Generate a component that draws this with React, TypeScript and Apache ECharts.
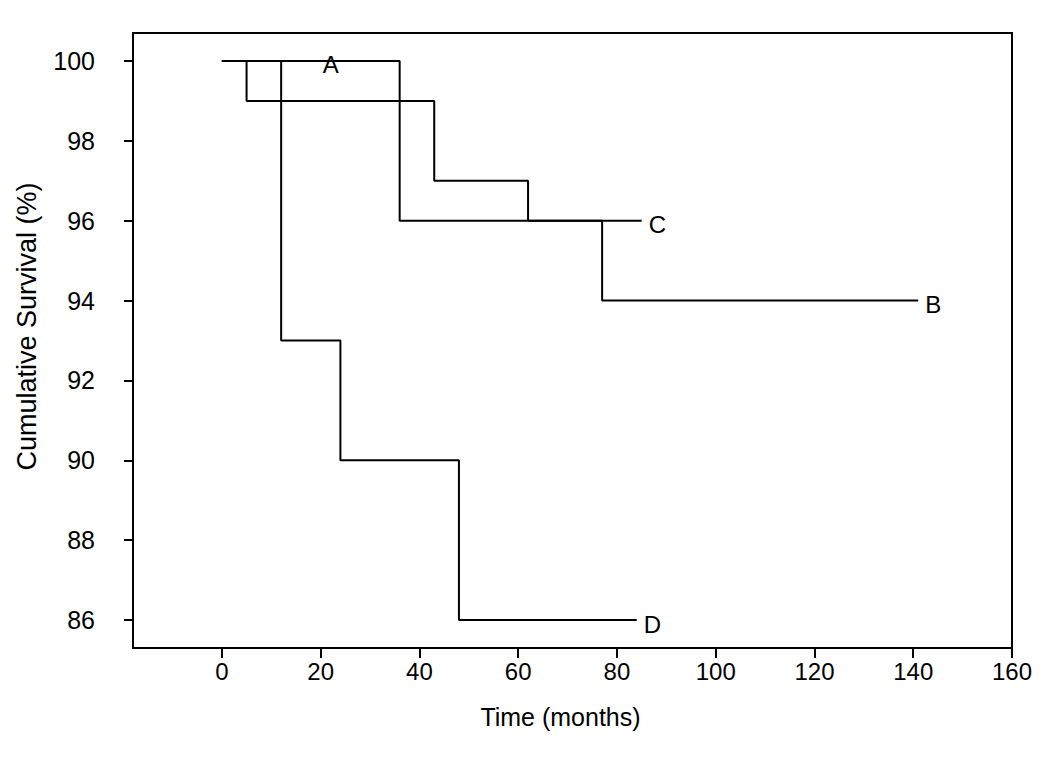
import React, { useEffect, useRef } from "react";
import * as echarts from "echarts";

const xTicks = [0, 20, 40, 60, 80, 100, 120, 140, 160];
const yTicks = [86, 88, 90, 92, 94, 96, 98, 100];

const seriesA: [number, number][] = [[0, 100], [19, 100]];
const seriesB: [number, number][] = [[0, 100], [5, 99], [43, 97], [62, 96], [77, 94], [141, 94]];
const seriesC: [number, number][] = [[0, 100], [36, 96], [85, 96]];
const seriesD: [number, number][] = [[0, 100], [12, 93], [24, 90], [48, 86], [84, 86]];

const curves = [
  { name: "A", data: seriesA },
  { name: "B", data: seriesB },
  { name: "C", data: seriesC },
  { name: "D", data: seriesD },
];

const FONT = "'Liberation Sans', Arial, sans-serif";

export default function App() {
  const ref = useRef<HTMLDivElement>(null);
  useEffect(() => {
    if (!ref.current) return;
    const chart = echarts.init(ref.current, null, { renderer: "svg" });
    chart.setOption({
      animation: false,
      backgroundColor: "#ffffff",
      grid: {
        left: 133,
        right: 38,
        top: 33,
        bottom: 121,
        show: true,
        borderColor: "#000",
        borderWidth: 2,
      },
      xAxis: {
        type: "value",
        min: -18,
        max: 160,
        name: "Time (months)",
        nameLocation: "middle",
        nameGap: 56,
        nameTextStyle: { fontFamily: FONT, fontSize: 25, color: "#000", padding: [0, 24, 0, 0] },
        splitLine: { show: false },
        axisLine: { show: true, onZero: false, lineStyle: { color: "#000", width: 2 } },
        axisTick: { show: true, inside: false, length: 10, customValues: xTicks, lineStyle: { color: "#000", width: 2 } },
        axisLabel: { customValues: xTicks, margin: 11, fontFamily: FONT, fontSize: 24, color: "#000" },
      },
      yAxis: {
        type: "value",
        min: 85.3,
        max: 100.7,
        name: "Cumulative Survival (%)",
        nameLocation: "middle",
        nameGap: 93,
        nameTextStyle: { fontFamily: FONT, fontSize: 27, color: "#000", padding: [0, 0, 0, 28] },
        splitLine: { show: false },
        axisLine: { show: true, onZero: false, lineStyle: { color: "#000", width: 2 } },
        axisTick: { show: true, inside: false, length: 9, customValues: yTicks, lineStyle: { color: "#000", width: 2 } },
        axisLabel: { customValues: yTicks, margin: 38, fontFamily: FONT, fontSize: 25, color: "#000" },
      },
      series: curves.map((c) => ({
        type: "line",
        name: c.name,
        data: c.data,
        step: "end",
        symbol: "none",
        lineStyle: { color: "#000", width: 2 },
        endLabel: {
          show: true,
          formatter: c.name,
          distance: 7,
          offset: [0, 4],
          fontFamily: FONT,
          fontSize: 24,
          color: "#000",
        },
      })),
    });
    return () => chart.dispose();
  }, []);
  return <div ref={ref} style={{ width: 1050, height: 769, position: "absolute", left: 0, top: 0 }} />;
}
